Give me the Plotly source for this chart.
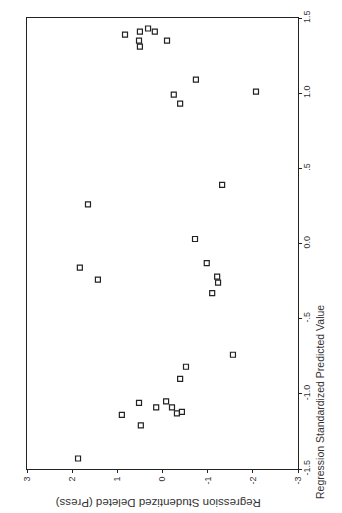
import plotly.graph_objects as go

# Regression Studentized Deleted (Press) Residual (horizontal axis, reversed)
stud_deleted = [0.83, 0.50, 0.32, 0.17, 0.52, 0.50, -0.10, -0.74, -0.25, -0.39,
                -2.07, -1.32, 1.65, -0.72, 1.83, 1.43, -0.98, -1.21, -1.23, -1.10,
                -1.56, -0.52, -0.39, 0.52, -0.08, 0.14, -0.21, -0.32, -0.43, 0.90,
                0.48, 1.87]
# Regression Standardized Predicted Value (vertical axis)
std_pred = [1.39, 1.41, 1.43, 1.41, 1.35, 1.31, 1.35, 1.09, 0.99, 0.93,
            1.01, 0.39, 0.26, 0.03, -0.16, -0.24, -0.13, -0.22, -0.26, -0.33,
            -0.74, -0.82, -0.90, -1.06, -1.05, -1.09, -1.09, -1.13, -1.12, -1.14,
            -1.21, -1.43]

x_tickvals = [3, 2, 1, 0, -1, -2, -3]
x_ticktext = ["3", "2", "1", "0", "-1", "-2", "-3"]
y_tickvals = [1.5, 1.0, 0.5, 0.0, -0.5, -1.0, -1.5]
y_ticktext = ["1.5", "1.0", ".5", "0.0", "-.5", "-1.0", "-1.5"]

x_title = "Regression Studentized Deleted (Press)"
y_title = "Regression Standardized Predicted Value"

fig = go.Figure()
fig.add_trace(go.Scatter(
    x=stud_deleted, y=std_pred, mode="markers",
    marker=dict(symbol="square-open", size=5, color="#222222",
                line=dict(width=1.2, color="#222222")),
    showlegend=False, hoverinfo="skip"))

axis_font = dict(family="Liberation Sans, Arial, sans-serif", size=9, color="#333333")

fig.update_layout(
    width=342, height=513,
    margin=dict(l=19, r=52, t=10, b=52, autoexpand=False),
    paper_bgcolor="white", plot_bgcolor="white",
    font=dict(family="Liberation Sans, Arial, sans-serif", color="#333333"),
    xaxis=dict(range=[3, -3], tickvals=x_tickvals, ticktext=x_ticktext,
               tickangle=-90, ticks="outside", ticklen=3, tickcolor="#222222",
               showline=True, linecolor="#222222", linewidth=1, mirror=True,
               showgrid=False, zeroline=False, tickfont=axis_font,
               automargin=False),
    yaxis=dict(range=[-1.5, 1.5], tickvals=y_tickvals, ticktext=y_ticktext,
               side="right", tickangle=-90, ticks="outside", ticklen=3,
               tickcolor="#222222", ticklabelstandoff=-3,
               showline=True, linecolor="#222222", linewidth=1, mirror=True,
               showgrid=False, zeroline=False, tickfont=axis_font,
               automargin=False),
    annotations=[
        dict(text=x_title, xref="paper", yref="paper", x=0.485, y=-0.075,
             xanchor="center", yanchor="middle", showarrow=False, textangle=180,
             font=dict(family="Liberation Sans, Arial, sans-serif", size=11.5,
                       color="#333333")),
        dict(text=y_title, xref="paper", yref="paper", x=1.082, y=0.149,
             xanchor="center", yanchor="middle", showarrow=False, textangle=-90,
             font=dict(family="Liberation Sans, Arial, sans-serif", size=10.5,
                       color="#333333")),
    ],
)

fig.write_html("out.html")
